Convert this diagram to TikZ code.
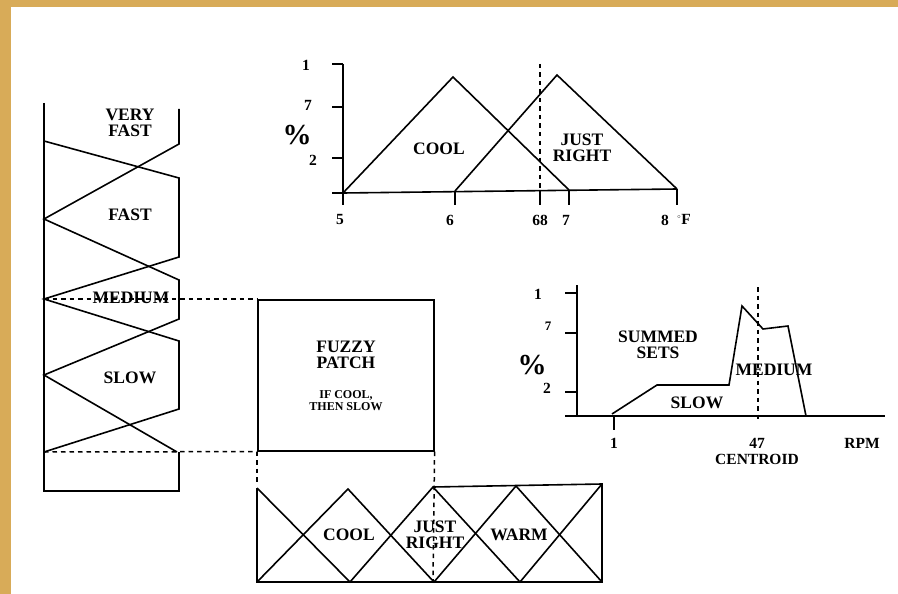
\documentclass[tikz,border=0pt]{standalone}
\usepackage{fontspec}
\setmainfont{Liberation Serif}
\definecolor{gold}{HTML}{D8AB58}
\tikzset{
  ln/.style={line width=1.6pt, black, line join=miter},
  dsh/.style={line width=1.5pt, black, dash pattern=on 4.5pt off 4pt},
  lab/.style={font=\fontsize{17.5}{16}\selectfont\bfseries, align=center, inner sep=0pt},
  small/.style={font=\fontsize{12}{12}\selectfont\bfseries, align=center, inner sep=0pt},
  pct/.style={font=\fontsize{29}{29}\selectfont\bfseries, inner sep=0pt},
  num/.style={font=\fontsize{15.5}{15.5}\selectfont\bfseries, inner sep=0pt},
}
\begin{document}
\begin{tikzpicture}[x=1pt,y=-1pt]
\useasboundingbox (0,0) rectangle (898,594);
\fill[white] (0,0) rectangle (898,594);
\fill[gold] (0,0) rectangle (898,7);
\fill[gold] (0,0) rectangle (11,594);

% ---------- left output sets ----------
\draw[ln] (44,103) -- (44,491) -- (179,491) -- (179,452);
\draw[ln] (179,109) -- (179,144) -- (44,219) -- (179,280) -- (179,319) -- (44,375) -- (177,452);
\draw[ln] (44,141) -- (179,178) -- (179,257) -- (44,299) -- (179,341) -- (179,409) -- (44,452);
\node[lab] (vf) at (130,123) {VERY\\FAST};
\node[lab] (fast) at (130,215) {FAST};
\node[lab] (med) at (131,298) {MEDIUM};
\node[lab] (slow) at (130,378) {SLOW};
\coordinate (medpt) at (44,299);
\coordinate (lowpt) at (44,452);

% ---------- fuzzy patch ----------
\node[draw, line width=1.6pt, minimum width=176pt, minimum height=151pt, anchor=north west, inner sep=0pt] (patch) at (257,299) {};
\node[lab] (fp) at (346,355) {FUZZY\\PATCH};
\node[small] (rule) at (346,401) {IF COOL,\\THEN SLOW};
\draw[dsh] (medpt) -- (patch.north west);
\draw[dsh] (lowpt) -- (patch.south west);

% ---------- bottom input sets ----------
\coordinate (b0) at (257,582);
\coordinate (b4) at (602,582);
\coordinate (t0) at (257,488);
\coordinate (t2) at (433,487);
\coordinate (t4) at (602,484);
\draw[ln] (t0) -- (b0) -- (b4) -- (t4) -- (t2);
\draw[ln] (257,582) -- (348,489) -- (434,582) -- (516,486) -- (602,582);
\draw[ln] (257,488) -- (350,582) -- (433,487) -- (520,582) -- (602,484);
\draw[dsh] (patch.south west) -- (257,482);
\draw[dsh] (patch.south east) -- (433,582);
\node[lab] (cool2) at (349,535) {COOL};
\node[lab] (jr2) at (435,535) {JUST\\RIGHT};
\node[lab] (warm) at (519,535) {WARM};

% ---------- top chart ----------
\draw[ln] (343,64) -- (343,205);
\draw[ln] (332,64) -- (343,64);
\draw[ln] (332,107) -- (343,107);
\draw[ln] (332,158) -- (343,158);
\draw[ln] (332,193) -- (343,193) -- (677,189);
\draw[ln] (455,192) -- (455,205);
\draw[ln] (540,190) -- (540,205);
\draw[ln] (569,190) -- (569,205);
\draw[ln] (677,189) -- (677,205);
\draw[ln] (343,193) -- (453,77) -- (569,190);
\draw[ln] (455,191) -- (557,75) -- (677,189);
\draw[dsh] (540,64) -- (540,190);
\node[num] (y1) at (306,65) {1};
\node[num] (y7) at (308,105) {7};
\node[num] (y2) at (313,160) {2};
\node[pct] (pc1) at (297,135) {\%};
\node[num] (x5) at (340,220) {5};
\node[num] (x6) at (450,220) {6};
\node[num] (x68) at (540,220) {68};
\node[num] (x7) at (566,220) {7};
\node[num] (x8) at (665,220) {8};
\node[num] (xF) at (684,219) {\raisebox{3pt}{\fontsize{8}{8}\selectfont$^{\circ}$}F};
\node[lab] (cool1) at (439,149) {COOL};
\node[lab] (jr1) at (582,148) {JUST\\RIGHT};

% ---------- bottom-right chart ----------
\draw[ln] (577,285) -- (577,416);
\draw[ln] (565,293) -- (577,293);
\draw[ln] (565,333) -- (577,333);
\draw[ln] (565,392) -- (577,392);
\draw[ln] (565,416) -- (885,416);
\draw[ln] (614,416) -- (614,430);
\draw[ln] (612,414) -- (657,385) -- (729,385) -- (742,306) -- (763,329) -- (788,326) -- (806,416);
\draw[dsh] (758,287) -- (758,422);
\node[num] (r1) at (538,294) {1};
\node[num, font=\fontsize{13}{13}\selectfont\bfseries] (r7) at (548,326) {7};
\node[num] (r2) at (547,388) {2};
\node[pct] (pc2) at (532,365) {\%};
\node[num] (rx1) at (614,443) {1};
\node[num] (rx47) at (757,443) {47};
\node[num] (cent) at (757,459) {CENTROID};
\node[num] (rpm) at (862,443) {RPM};
\node[lab] (sum) at (658,345) {SUMMED\\SETS};
\node[lab] (med2) at (774,370) {MEDIUM};
\node[lab] (slow2) at (697,403) {SLOW};
\end{tikzpicture}
\end{document}
